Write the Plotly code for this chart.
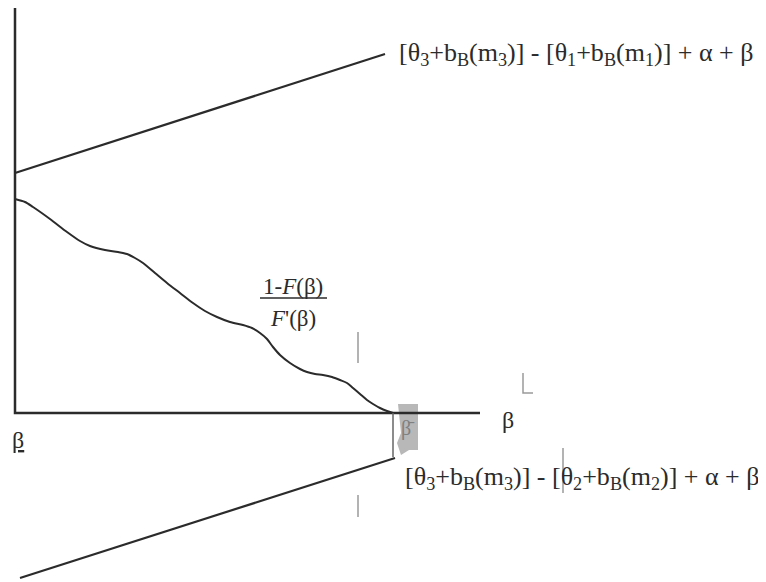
import plotly.graph_objects as go

# schematic units: origin where the two axes meet, y pointing up
axis_x = [0, 0, 465]
axis_y = [410, 0, 0]

curve_x = [0, 10, 18, 35, 52, 65, 75, 90, 103, 112, 120, 128, 140, 152, 165, 178,
           190, 202, 215, 228, 237, 245, 252, 258, 265, 275, 285, 292, 300, 308,
           317, 325, 332, 338, 345, 352, 358, 365, 372, 378]
curve_y = [214, 211, 206, 194, 181, 172, 167, 163, 161, 159, 155, 150, 140, 130, 120, 110,
           102, 96, 91, 88, 85, 80, 74, 66, 58, 50, 44, 41, 39, 38,
           36, 33, 30, 25, 19, 13, 9, 5, 2, 0]

upper_x = [0, 370]
upper_y = [240, 359]
lower_x = [5, 380]
lower_y = [-165, -45]
drop_x = [378, 378]
drop_y = [0, -44]

# faint scanner marks on the original
marks_x = [343, 343, None, 343, 343, None, 548, 548, None, 508, 508, 518]
marks_y = [81, 50, None, -82, -104, None, -35, -80, None, 40, 20, 20]
blob_x = [383, 403, 403, 394, 386, 382, 386, 383]
blob_y = [9, 9, -37, -37, -42, -30, -20, 9]

frac_x = [245, 312]
frac_y = [115, 115]

ink = "#2b2b2b"
serif = "Liberation Serif"

fig = go.Figure()
fig.add_trace(go.Scatter(x=blob_x, y=blob_y, fill="toself", fillcolor="#b8b8b8",
                         mode="none", hoverinfo="skip"))
fig.add_trace(go.Scatter(x=marks_x, y=marks_y, mode="lines",
                         line=dict(color="#9a9a9a", width=1.5)))
fig.add_trace(go.Scatter(x=axis_x, y=axis_y, mode="lines", line=dict(color=ink, width=2.5)))
fig.add_trace(go.Scatter(x=upper_x, y=upper_y, mode="lines", line=dict(color=ink, width=2.2)))
fig.add_trace(go.Scatter(x=lower_x, y=lower_y, mode="lines", line=dict(color=ink, width=2.2)))
fig.add_trace(go.Scatter(x=curve_x, y=curve_y, mode="lines",
                         line=dict(color=ink, width=2, shape="spline", smoothing=0.8)))
fig.add_trace(go.Scatter(x=drop_x, y=drop_y, mode="lines", line=dict(color="#666666", width=1.5)))
fig.add_trace(go.Scatter(x=frac_x, y=frac_y, mode="lines", line=dict(color=ink, width=1.5)))

labels = [
    (382, 359, "[θ<sub>3</sub>+b<sub>B</sub>(m<sub>3</sub>)] - [θ<sub>1</sub>+b<sub>B</sub>(m<sub>1</sub>)] + α + β", "left", 26),
    (388, -65, "[θ<sub>3</sub>+b<sub>B</sub>(m<sub>3</sub>)] - [θ<sub>2</sub>+b<sub>B</sub>(m<sub>2</sub>)] + α + β", "left", 26),
    (278, 127, "1-<i>F</i>(β)", "center", 23),
    (278, 95, "<i>F</i>'(β)", "center", 23),
    (493, -7, "β", "center", 24),
    (3, -27, "<u>β</u>", "center", 24),
]
for x, y, t, anchor, size in labels:
    fig.add_annotation(x=x, y=y, text=t, showarrow=False, xanchor=anchor, yanchor="middle",
                       font=dict(family=serif, size=size, color=ink))
fig.add_annotation(x=393, y=-15, text="β̄", showarrow=False,
                   font=dict(family=serif, size=20, color="#808080"))

# the page body adds an 8px margin, so the figure is 8px smaller and ranges start 8px in
fig.update_layout(
    width=758, height=574,
    margin=dict(l=0, r=0, t=0, b=0),
    paper_bgcolor="white", plot_bgcolor="white",
    showlegend=False,
    xaxis=dict(range=[-7, 751], visible=False, fixedrange=True),
    yaxis=dict(range=[-169, 405], visible=False, fixedrange=True),
)

fig.write_html("out.html")
